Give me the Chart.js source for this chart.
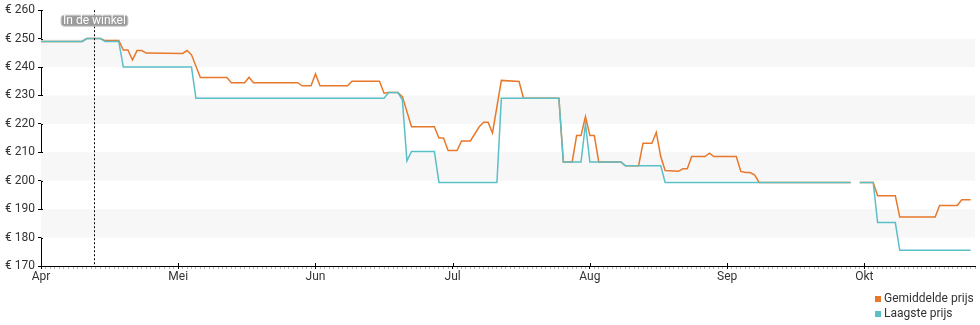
<!DOCTYPE html>
<html lang="nl">
<head>
<meta charset="utf-8">
<title>Prijsverloop</title>
<script src="https://cdn.jsdelivr.net/npm/chart.js@4.4.1/dist/chart.umd.min.js"></script>
<style>
    body { margin: 0; background: #fff; font-family: Roboto, sans-serif; }
    .wrap { position: relative; width: 980px; height: 325px; }
    .legend { position: absolute; left: 875px; top: 291px; font-size: 12px; line-height: 14.5px; color: #333; }
    .legend-item { white-space: nowrap; }
    .swatch { display: inline-block; width: 6px; height: 6px; margin-right: 3px; }
</style>
</head>
<body>
<div class="wrap">
    <canvas id="priceChart" width="980" height="325"></canvas>
    <div class="legend" id="priceLegend"></div>
</div>
<script>
const monthNames = ['Apr', 'Mei', 'Jun', 'Jul', 'Aug', 'Sep', 'Okt'];
const monthDays = [30, 31, 30, 31, 31, 30, 31];
const lastDay = '10-26';

const yTicks = [170, 180, 190, 200, 210, 220, 230, 240, 250, 260];

// Laagste prijs (null = no data that day)
const lowDates = ['04-01', '04-10', '04-11', '04-14', '04-15', '04-18', '04-19', '05-04', '05-05', '06-16',
    '06-17', '06-19', '06-20', '06-21', '06-22', '06-27', '06-28', '07-11', '07-12', '07-25',
    '07-26', '07-30', '07-31', '08-01', '08-08', '08-09', '08-17', '08-18', '09-28', '09-29',
    '09-30', '10-03', '10-04', '10-08', '10-09', '10-25'];
const lowPrices = [249, 249, 250, 250, 249, 249, 240, 240, 229, 229,
    231, 231, 228.5, 207, 210.3, 210.3, 199.4, 199.4, 229, 229,
    206.6, 206.6, 220, 206.6, 206.6, 205.3, 205.3, 199.4, 199.4, null,
    199.4, 199.4, 185.3, 185.3, 175.5, 175.5];

// Gemiddelde prijs
const avgDates = ['04-01', '04-10', '04-11', '04-14', '04-15', '04-18', '04-19', '04-20', '04-21', '04-22',
    '04-23', '04-24', '05-02', '05-03', '05-04', '05-06', '05-12', '05-13', '05-16', '05-17',
    '05-18', '05-28', '05-29', '05-31', '06-01', '06-02', '06-08', '06-09', '06-15', '06-16',
    '06-17', '06-19', '06-20', '06-22', '06-27', '06-28', '06-29', '06-30', '07-02', '07-03',
    '07-05', '07-07', '07-08', '07-09', '07-10', '07-12', '07-16', '07-17', '07-25', '07-26',
    '07-28', '07-29', '07-30', '07-31', '08-01', '08-02', '08-03', '08-08', '08-09', '08-12',
    '08-13', '08-15', '08-16', '08-17', '08-18', '08-21', '08-22', '08-23', '08-24', '08-27',
    '08-28', '08-29', '09-03', '09-04', '09-05', '09-06', '09-07', '09-08', '09-28', '09-29',
    '09-30', '10-03', '10-04', '10-08', '10-09', '10-17', '10-18', '10-22', '10-23', '10-25'];
const avgPrices = [249, 249, 250, 250, 249.3, 249.3, 246, 246, 242.5, 245.8,
    245.8, 244.9, 244.8, 245.8, 244.3, 236.3, 236.3, 234.5, 234.5, 236.4,
    234.5, 234.5, 233.4, 233.4, 237.6, 233.4, 233.4, 235, 235, 230.8,
    231, 231, 229.6, 219, 219, 215, 215, 210.6, 210.6, 214,
    214, 219, 220.6, 220.6, 216.8, 235.3, 234.9, 229, 229, 206.6,
    206.6, 215.9, 215.9, 222.6, 215.9, 215.9, 206.6, 206.6, 205.3, 205.3,
    213.2, 213.2, 217, 208.5, 203.6, 203.3, 204.2, 204.2, 208.5, 208.5,
    209.7, 208.5, 208.5, 203.3, 202.9, 202.9, 202.1, 199.4, 199.4, null,
    199.4, 199.4, 194.7, 194.7, 187.2, 187.2, 191.3, 191.3, 193.3, 193.3];

const storeMarker = { month: 4, day: 12.6, label: 'In de winkel' };

const orange = '#e8782a';
const teal = '#5bbfc7';
const textColor = '#333';

// every month gets the same width on the axis, days are spread inside it
function toPos(month, day) {
    const i = month - 4;
    return i + (day - 1) / monthDays[i];
}

function dateToPos(str) {
    const [m, d] = str.split('-').map(Number);
    return toPos(m, d);
}

function toPoints(dates, prices) {
    return dates.map((d, i) => ({ x: dateToPos(d), y: prices[i] }));
}

function dayTicks() {
    const ticks = [];
    const max = dateToPos(lastDay);
    monthDays.forEach((days, i) => {
        for (let d = 1; d <= days; d++) {
            const value = toPos(i + 4, d);
            if (value <= max + 1e-9) ticks.push({ value, major: d === 1 });
        }
    });
    return ticks;
}

// shaded bands and the tick marks that cross into the plot
const chartDecor = {
    id: 'chartDecor',
    beforeDatasetsDraw(chart) {
        const { ctx, chartArea, scales } = chart;
        ctx.save();
        ctx.fillStyle = '#f7f7f7';
        yTicks.forEach((v, i) => {
            if (i % 2 === 1 && i < yTicks.length - 1) {
                const top = scales.y.getPixelForValue(yTicks[i + 1]);
                const bottom = scales.y.getPixelForValue(v);
                ctx.fillRect(chartArea.left, top, chartArea.right - chartArea.left, bottom - top);
            }
        });
        ctx.restore();
    },
    afterDatasetsDraw(chart) {
        const { ctx, chartArea, scales } = chart;
        ctx.save();
        ctx.strokeStyle = '#000';
        ctx.lineWidth = 1;
        ctx.beginPath();
        yTicks.forEach(v => {
            const y = Math.round(scales.y.getPixelForValue(v)) + 0.5;
            ctx.moveTo(chartArea.left, y);
            ctx.lineTo(chartArea.left + 2, y);
        });
        scales.x.ticks.filter(t => t.major).forEach(t => {
            const x = Math.round(scales.x.getPixelForValue(t.value)) + 0.5;
            ctx.moveTo(x, chartArea.bottom);
            ctx.lineTo(x, chartArea.bottom - 3);
        });
        ctx.stroke();

        // "In de winkel" marker
        const mx = Math.round(scales.x.getPixelForValue(toPos(storeMarker.month, storeMarker.day))) + 0.5;
        ctx.setLineDash([2, 2]);
        ctx.beginPath();
        ctx.moveTo(mx, chartArea.top);
        ctx.lineTo(mx, chartArea.bottom);
        ctx.stroke();
        ctx.setLineDash([]);

        ctx.font = '12px Roboto';
        const w = ctx.measureText(storeMarker.label).width + 4;
        const h = 11;
        const bx = mx - w / 2;
        const by = chartArea.top + 5;
        ctx.fillStyle = '#9b9b9b';
        ctx.strokeStyle = '#c8c8c8';
        ctx.beginPath();
        ctx.roundRect(bx, by, w, h, 3);
        ctx.fill();
        ctx.stroke();
        ctx.fillStyle = '#fff';
        ctx.textAlign = 'center';
        ctx.textBaseline = 'middle';
        ctx.fillText(storeMarker.label, mx, by + h / 2 + 0.5);
        ctx.restore();
    }
};

function renderLegend(chart) {
    document.getElementById('priceLegend').innerHTML = chart.data.datasets.map(ds => `
        <div class="legend-item"><span class="swatch" style="background:${ds.borderColor}"></span>${ds.label}</div>
    `).join('');
}

const tickFont = { family: 'Roboto', size: 12 };

const priceChart = new Chart(document.getElementById('priceChart'), {
    type: 'line',
    data: {
        datasets: [{
            label: 'Gemiddelde prijs',
            data: toPoints(avgDates, avgPrices),
            borderColor: orange,
            backgroundColor: orange,
            order: 1
        }, {
            label: 'Laagste prijs',
            data: toPoints(lowDates, lowPrices),
            borderColor: teal,
            backgroundColor: teal,
            order: 0
        }]
    },
    options: {
        responsive: false,
        animation: false,
        spanGaps: false,
        elements: {
            line: { borderWidth: 1.5, tension: 0 },
            point: { radius: 0, hoverRadius: 0 }
        },
        layout: { padding: { top: 10, right: 5, bottom: 39, left: 0 } },
        scales: {
            x: {
                type: 'linear',
                min: 0,
                max: dateToPos(lastDay),
                afterBuildTicks: scale => { scale.ticks = dayTicks(); },
                afterFit: scale => { scale.height = 20; },
                ticks: {
                    autoSkip: false,
                    maxRotation: 0,
                    padding: 1,
                    color: textColor,
                    font: tickFont,
                    callback: (value, index, ticks) => ticks[index].major ? monthNames[Math.round(value)] : ''
                },
                grid: {
                    drawOnChartArea: false,
                    tickLength: 3,
                    color: ctx => ctx.tick && ctx.tick.major ? '#000' : '#b5b5b5'
                },
                border: { color: '#000', width: 1 }
            },
            y: {
                min: 170,
                max: 260,
                afterBuildTicks: scale => { scale.ticks = yTicks.map(value => ({ value })); },
                afterFit: scale => { scale.width = 41; },
                ticks: {
                    padding: 3,
                    color: textColor,
                    font: tickFont,
                    callback: value => `€ ${value}`
                },
                grid: { drawOnChartArea: false, tickLength: 3, color: '#000' },
                border: { color: '#000', width: 1 }
            }
        },
        plugins: {
            legend: { display: false },
            tooltip: { enabled: false }
        }
    },
    plugins: [chartDecor]
});

renderLegend(priceChart);
</script>
</body>
</html>
